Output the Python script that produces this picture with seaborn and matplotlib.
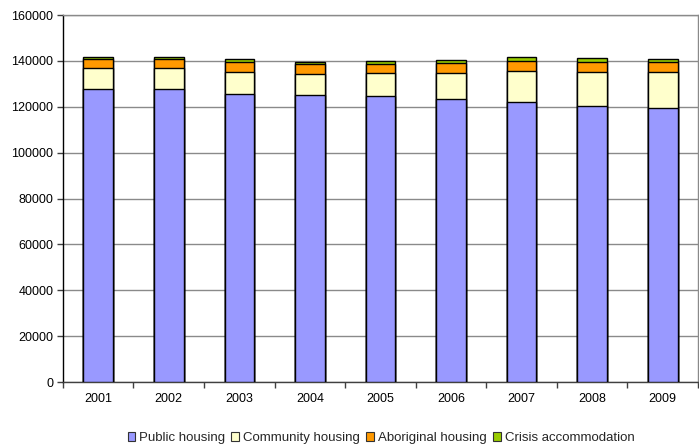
import matplotlib
matplotlib.use("Agg")
import matplotlib.pyplot as plt
from matplotlib.patches import Patch
import seaborn as sns
import pandas as pd
import numpy as np

years = ["2001", "2002", "2003", "2004", "2005", "2006", "2007", "2008", "2009"]
public_housing = [127700, 127600, 125600, 125200, 124600, 123300, 122000, 120400, 119300]
community_housing = [9200, 9300, 9700, 9100, 10100, 11400, 13600, 14800, 15900]
aboriginal_housing = [4000, 4000, 4300, 4200, 3800, 4300, 4300, 4200, 4200]
crisis_accommodation = [1000, 1000, 1100, 1000, 1400, 1500, 1700, 1800, 1300]

series_names = ["Public housing", "Community housing", "Aboriginal housing", "Crisis accommodation"]
series_values = [public_housing, community_housing, aboriginal_housing, crisis_accommodation]
colors = ["#9999FF", "#FFFFCC", "#FF9900", "#99CC00"]

sns.set_theme(style="white")
plt.rcParams["font.family"] = ["Liberation Sans", "DejaVu Sans"]

fig = plt.figure(figsize=(6.99, 4.48), dpi=100)
ax = fig.add_axes([0.090, 0.147, 0.9086, 0.8195])

# Cumulative stack heights; draw the tallest first so each lower layer covers it
cum = np.cumsum(np.array(series_values), axis=0)
for i in range(len(series_names) - 1, -1, -1):
    df = pd.DataFrame({"year": years, "value": cum[i]})
    sns.barplot(data=df, x="year", y="value", color=colors[i], width=0.42,
                edgecolor="black", linewidth=1.0, saturation=1, ax=ax, zorder=3)

ax.set_ylim(0, 160000)
ax.set_xlim(-0.5, len(years) - 0.5)
ax.set_yticks(np.arange(0, 160001, 20000))
ax.set_yticklabels([str(v) for v in range(0, 160001, 20000)])
ax.yaxis.grid(True, color="#8a8a8a", linewidth=1.0, zorder=0)
ax.set_axisbelow(True)
ax.set_xlabel("")
ax.set_ylabel("")

# Category ticks sit between the bars
ax.set_xticks(np.arange(len(years)))
ax.set_xticklabels(years)
ax.set_xticks(np.arange(-0.5, len(years)), minor=True)
ax.tick_params(axis="x", which="major", length=0, labelsize=9, pad=8, colors="black")
ax.tick_params(axis="x", which="minor", length=4, width=1, color="#404040", bottom=True)
ax.tick_params(axis="y", which="major", length=4, width=1, labelsize=9,
               left=True, pad=3, colors="black")
ax.tick_params(axis="y", color="#404040")

for side in ["top", "right"]:
    ax.spines[side].set_visible(True)
    ax.spines[side].set_color("#8a8a8a")
    ax.spines[side].set_linewidth(1.0)
ax.spines["left"].set_color("black")
ax.spines["left"].set_linewidth(1.0)
ax.spines["bottom"].set_color("#404040")
ax.spines["bottom"].set_linewidth(1.0)

handles = [Patch(facecolor=c, edgecolor="#333333", linewidth=0.8) for c in colors]
fig.legend(handles, series_names, loc="center", bbox_to_anchor=(0.545, 0.022),
           ncol=4, frameon=False, fontsize=9.5, handlelength=0.6, handleheight=0.6,
           handletextpad=0.3, columnspacing=0.45, borderaxespad=0)

fig.savefig("out.png", dpi=100)
